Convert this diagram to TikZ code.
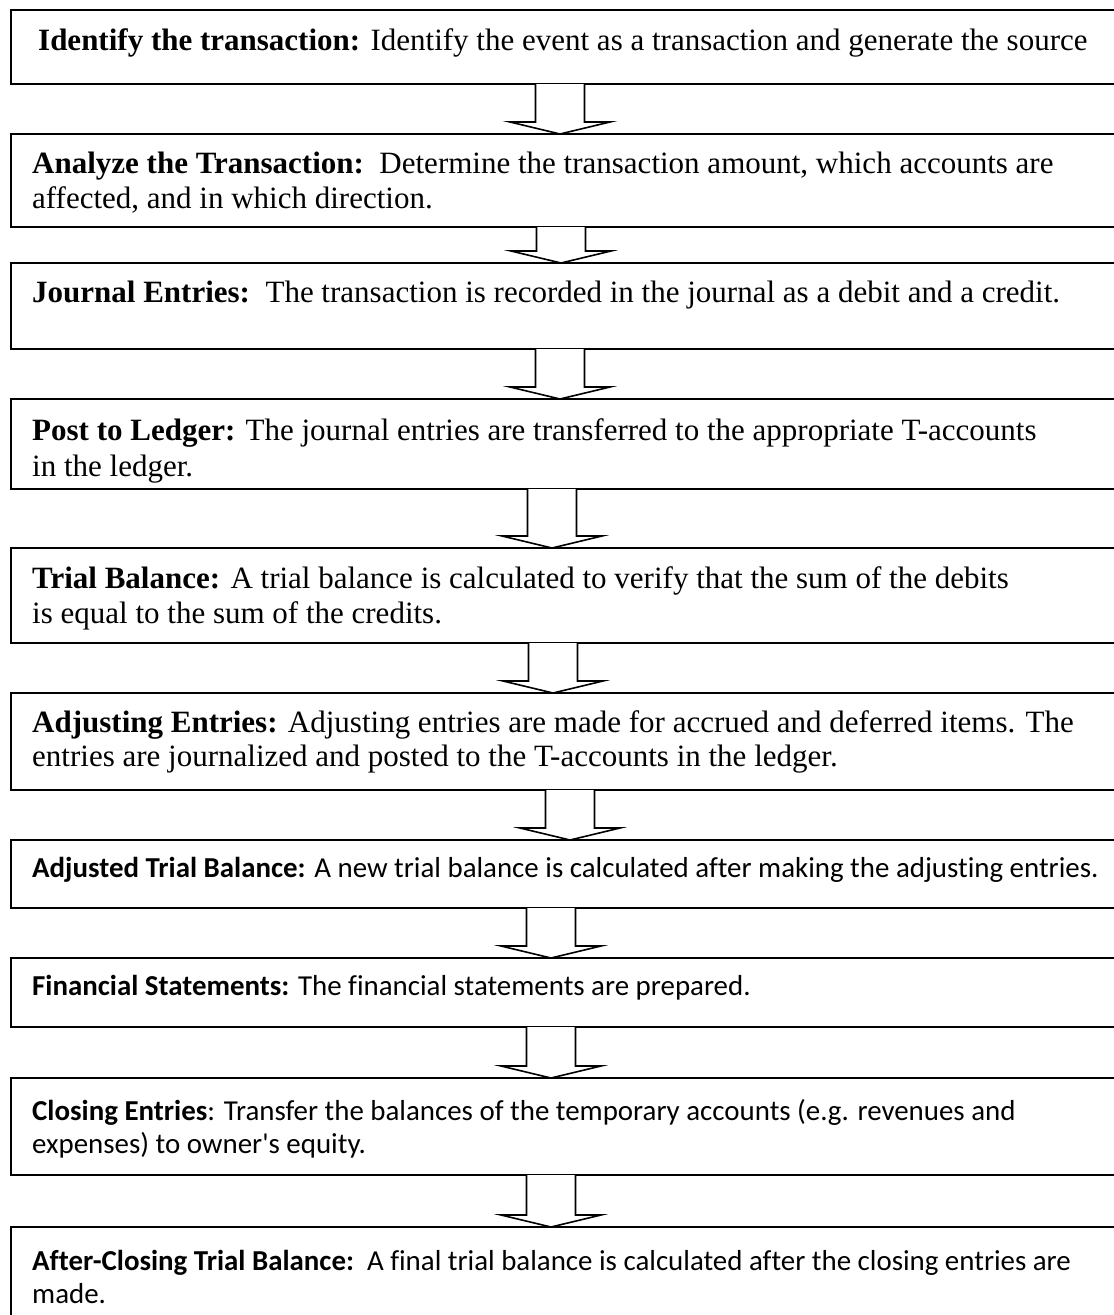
\documentclass[tikz,border=0pt]{standalone}
\usepackage{fontspec}
\setmainfont[Ligatures=NoCommon]{Liberation Serif}
\newfontfamily\calibfont[Ligatures=NoCommon]{Carlito}
\usetikzlibrary{calc}
\tikzset{
  box/.style={draw, line width=1.6pt, rectangle, inner sep=0pt, outer sep=0pt, anchor=north west, minimum width=1140pt},
  serif/.style={anchor=base west, inner sep=0pt, font=\fontsize{31}{35}\selectfont},
  sans/.style={anchor=base west, inner sep=0pt, font=\calibfont\fontsize{28.9}{33}\selectfont},
  blk/.style={draw, line width=1.6pt, fill=white, line join=miter}
}
\newcommand\barrow[3]{%
  \draw[blk] let \p1=(#1.south), \p2=(#2.north) in
    ({#3pt-24.5pt},\y1) -- ({#3pt-24.5pt},{\y2+12pt}) -- ({#3pt-50pt},{\y2+12pt}) -- ({#3pt},\y2)
    -- ({#3pt+50pt},{\y2+12pt}) -- ({#3pt+24.5pt},{\y2+12pt}) -- ({#3pt+24.5pt},\y1);
}
\begin{document}
\begin{tikzpicture}[x=1pt,y=-1pt]
\useasboundingbox (0,0) rectangle (1114,1315);
\clip (0,0) rectangle (1114,1315);
\fill[white] (0,0) rectangle (1114,1315);

\node[box, minimum height=74pt] (b1) at (11,10) {};
\node[box, minimum height=93pt] (b2) at (11,134) {};
\node[box, minimum height=86pt] (b3) at (11,263) {};
\node[box, minimum height=90pt] (b4) at (11,399) {};
\node[box, minimum height=95pt] (b5) at (11,548) {};
\node[box, minimum height=97pt] (b6) at (11,693) {};
\node[box, minimum height=68pt] (b7) at (11,840) {};
\node[box, minimum height=69pt] (b8) at (11,958) {};
\node[box, minimum height=97pt] (b9) at (11,1078) {};
\node[box, minimum height=113pt] (b10) at (11,1227) {};

\barrow{b1}{b2}{560}
\barrow{b2}{b3}{561}
\barrow{b3}{b4}{560}
\barrow{b4}{b5}{552}
\barrow{b5}{b6}{553}
\barrow{b6}{b7}{570}
\barrow{b7}{b8}{551}
\barrow{b8}{b9}{551}
\barrow{b9}{b10}{551}

\node[serif] (t1) at (38,50) {\textbf{Identify the transaction:} Identify the event as a transaction and generate the source};
\node[serif] (t2a) at (32,173) {\textbf{Analyze the Transaction:}\ \ Determine the transaction amount, which accounts are};
\node[serif] (t2b) at (32,208) {affected, and in which direction.};
\node[serif] (t3) at (32,302) {\textbf{Journal Entries:}\ \ The transaction is recorded in the journal as a debit and a credit.};
\node[serif] (t4a) at (32,440) {\textbf{Post to Ledger:} The journal entries are transferred to the appropriate T-accounts};
\node[serif] (t4b) at (32,476) {in the ledger.};
\node[serif] (t5a) at (32,588) {\textbf{Trial Balance:} A trial balance is calculated to verify that the sum of the debits};
\node[serif] (t5b) at (32,623) {is equal to the sum of the credits.};
\node[serif] (t6a) at (32,732) {\textbf{Adjusting Entries:} Adjusting entries are made for accrued and deferred items. The};
\node[serif] (t6b) at (32,766) {entries are journalized and posted to the T-accounts in the ledger.};
\node[sans] (t7) at (32,877) {\textbf{Adjusted Trial Balance:} A new trial balance is calculated after making the adjusting entries.};
\node[sans] (t8) at (32,995) {\textbf{Financial Statements:} The financial statements are prepared.};
\node[sans] (t9a) at (32,1120) {\textbf{Closing Entries}: Transfer the balances of the temporary accounts (e.g. revenues and};
\node[sans] (t9b) at (32,1153) {expenses) to owner's equity.};
\node[sans] (t10a) at (32,1270) {\textbf{After-Closing Trial Balance:}\ \ A final trial balance is calculated after the closing entries are};
\node[sans] (t10b) at (32,1303) {made.};
\end{tikzpicture}
\end{document}
